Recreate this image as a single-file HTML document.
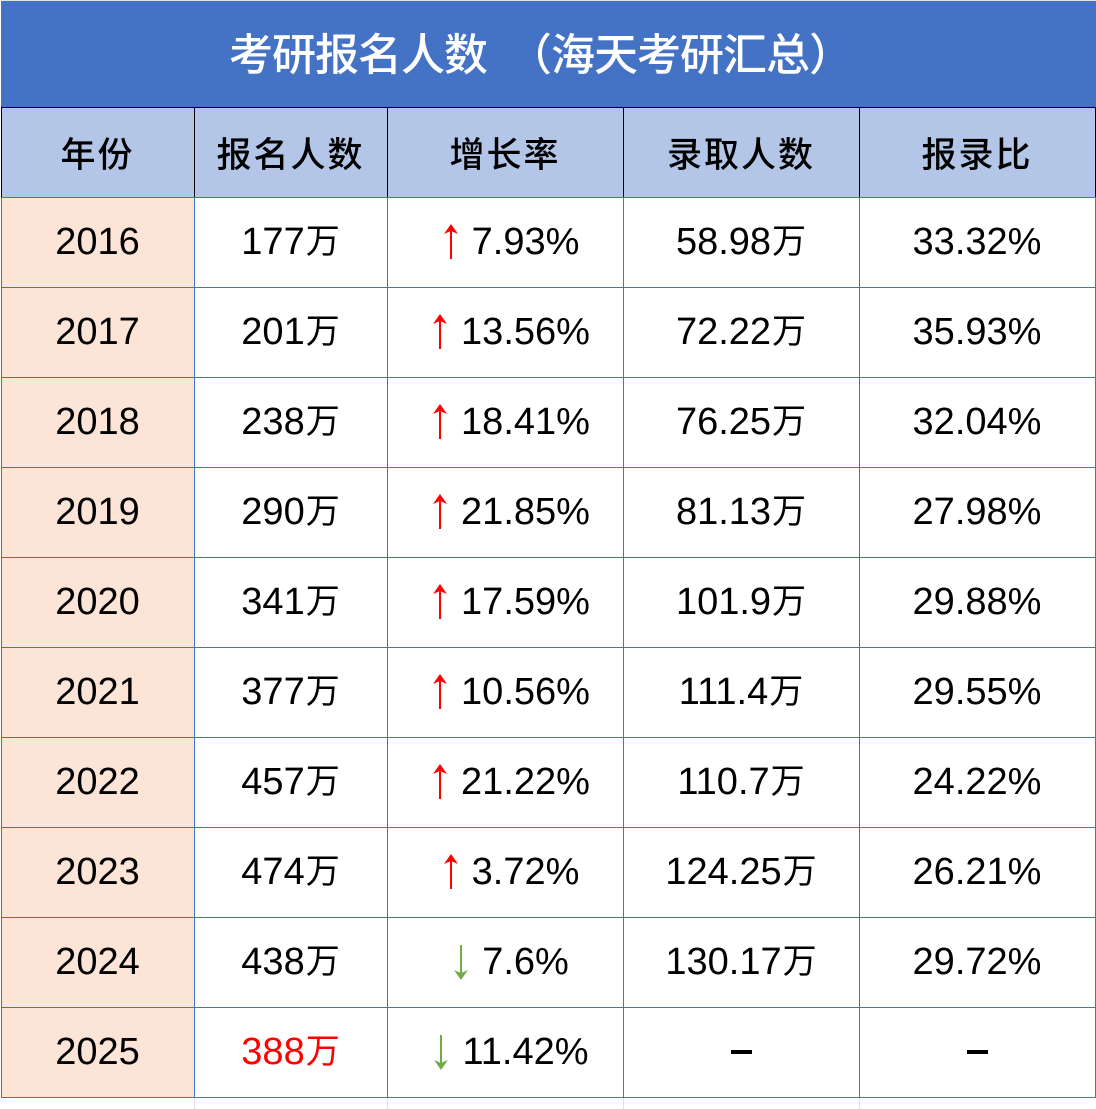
<!DOCTYPE html>
<html><head><meta charset="utf-8">
<style>
html,body{margin:0;padding:0;background:#fff;}
body{width:1096px;height:1109px;position:relative;overflow:hidden;font-family:"Liberation Sans","Noto Sans CJK SC",sans-serif;}
.a{position:absolute;}
.c{position:absolute;display:flex;align-items:center;justify-content:center;font-size:38px;color:#000;line-height:1;white-space:nowrap;}
.w{font-family:"Noto Sans CJK SC",sans-serif;font-size:34px;margin-left:1px;position:relative;top:-3px;}
.h{font-family:"Noto Sans CJK SC",sans-serif;font-size:35px;font-weight:500;letter-spacing:2px;}
.g{padding-left:12px;box-sizing:border-box;}
.g svg{margin-right:13px;flex:none;}
.vl{position:absolute;width:1px;}
.hl{position:absolute;height:1px;}
.t{position:absolute;top:-2px;height:106px;line-height:106px;font-family:'Noto Sans CJK SC',sans-serif;font-size:44px;font-weight:500;letter-spacing:-1px;color:#fff;white-space:nowrap;}
</style></head><body>
<!-- faint gridlines -->
<div class="hl" style="left:0;top:0;width:1096px;background:#e2e2e2"></div>
<div class="vl" style="left:194px;top:1098px;height:11px;background:#e2e2e2"></div>
<div class="vl" style="left:387px;top:1098px;height:11px;background:#e2e2e2"></div>
<div class="vl" style="left:623px;top:1098px;height:11px;background:#e2e2e2"></div>
<div class="vl" style="left:859px;top:1098px;height:11px;background:#e2e2e2"></div>

<!-- title -->
<div class="a" style="left:1px;top:1px;width:1095px;height:106px;background:#4472C4"></div>
<div class="t" style="left:229px;">考研报名人数</div>
<div class="t" style="left:508px;">（海天考研汇总）</div>

<!-- header -->
<div class="a" style="left:1px;top:107px;width:1094px;height:90px;background:#B4C6E7"></div>
<!-- year column fill -->
<div class="a" style="left:1px;top:197px;width:193px;height:900px;background:#FCE4D6"></div>

<div class="c h" style="left:1px;top:107px;width:193px;height:90px;">年份</div>
<div class="c h" style="left:194px;top:107px;width:193px;height:90px;">报名人数</div>
<div class="c h" style="left:387px;top:107px;width:236px;height:90px;">增长率</div>
<div class="c h" style="left:623px;top:107px;width:236px;height:90px;">录取人数</div>
<div class="c h" style="left:859px;top:107px;width:236px;height:90px;">报录比</div>

<!-- rows -->
<div class="c" style="left:1px;top:197px;width:193px;height:90px;">2016</div>
<div class="c" style="left:194px;top:197px;width:193px;height:90px;">177<span class="w">万</span></div>
<div class="c g" style="left:387px;top:197px;width:236px;height:90px;"><svg width="16" height="36" viewBox="0 0 16 36"><line x1="8" y1="4" x2="8" y2="35" stroke="#FF0000" stroke-width="2"/><polygon points="1,10 8,0 15,10 8,7" fill="#FF0000"/></svg>7.93%</div>
<div class="c" style="left:623px;top:197px;width:236px;height:90px;">58.98<span class="w">万</span></div>
<div class="c" style="left:859px;top:197px;width:236px;height:90px;">33.32%</div>

<div class="c" style="left:1px;top:287px;width:193px;height:90px;">2017</div>
<div class="c" style="left:194px;top:287px;width:193px;height:90px;">201<span class="w">万</span></div>
<div class="c g" style="left:387px;top:287px;width:236px;height:90px;"><svg width="16" height="36" viewBox="0 0 16 36"><line x1="8" y1="4" x2="8" y2="35" stroke="#FF0000" stroke-width="2"/><polygon points="1,10 8,0 15,10 8,7" fill="#FF0000"/></svg>13.56%</div>
<div class="c" style="left:623px;top:287px;width:236px;height:90px;">72.22<span class="w">万</span></div>
<div class="c" style="left:859px;top:287px;width:236px;height:90px;">35.93%</div>

<div class="c" style="left:1px;top:377px;width:193px;height:90px;">2018</div>
<div class="c" style="left:194px;top:377px;width:193px;height:90px;">238<span class="w">万</span></div>
<div class="c g" style="left:387px;top:377px;width:236px;height:90px;"><svg width="16" height="36" viewBox="0 0 16 36"><line x1="8" y1="4" x2="8" y2="35" stroke="#FF0000" stroke-width="2"/><polygon points="1,10 8,0 15,10 8,7" fill="#FF0000"/></svg>18.41%</div>
<div class="c" style="left:623px;top:377px;width:236px;height:90px;">76.25<span class="w">万</span></div>
<div class="c" style="left:859px;top:377px;width:236px;height:90px;">32.04%</div>

<div class="c" style="left:1px;top:467px;width:193px;height:90px;">2019</div>
<div class="c" style="left:194px;top:467px;width:193px;height:90px;">290<span class="w">万</span></div>
<div class="c g" style="left:387px;top:467px;width:236px;height:90px;"><svg width="16" height="36" viewBox="0 0 16 36"><line x1="8" y1="4" x2="8" y2="35" stroke="#FF0000" stroke-width="2"/><polygon points="1,10 8,0 15,10 8,7" fill="#FF0000"/></svg>21.85%</div>
<div class="c" style="left:623px;top:467px;width:236px;height:90px;">81.13<span class="w">万</span></div>
<div class="c" style="left:859px;top:467px;width:236px;height:90px;">27.98%</div>

<div class="c" style="left:1px;top:557px;width:193px;height:90px;">2020</div>
<div class="c" style="left:194px;top:557px;width:193px;height:90px;">341<span class="w">万</span></div>
<div class="c g" style="left:387px;top:557px;width:236px;height:90px;"><svg width="16" height="36" viewBox="0 0 16 36"><line x1="8" y1="4" x2="8" y2="35" stroke="#FF0000" stroke-width="2"/><polygon points="1,10 8,0 15,10 8,7" fill="#FF0000"/></svg>17.59%</div>
<div class="c" style="left:623px;top:557px;width:236px;height:90px;">101.9<span class="w">万</span></div>
<div class="c" style="left:859px;top:557px;width:236px;height:90px;">29.88%</div>

<div class="c" style="left:1px;top:647px;width:193px;height:90px;">2021</div>
<div class="c" style="left:194px;top:647px;width:193px;height:90px;">377<span class="w">万</span></div>
<div class="c g" style="left:387px;top:647px;width:236px;height:90px;"><svg width="16" height="36" viewBox="0 0 16 36"><line x1="8" y1="4" x2="8" y2="35" stroke="#FF0000" stroke-width="2"/><polygon points="1,10 8,0 15,10 8,7" fill="#FF0000"/></svg>10.56%</div>
<div class="c" style="left:623px;top:647px;width:236px;height:90px;">111.4<span class="w">万</span></div>
<div class="c" style="left:859px;top:647px;width:236px;height:90px;">29.55%</div>

<div class="c" style="left:1px;top:737px;width:193px;height:90px;">2022</div>
<div class="c" style="left:194px;top:737px;width:193px;height:90px;">457<span class="w">万</span></div>
<div class="c g" style="left:387px;top:737px;width:236px;height:90px;"><svg width="16" height="36" viewBox="0 0 16 36"><line x1="8" y1="4" x2="8" y2="35" stroke="#FF0000" stroke-width="2"/><polygon points="1,10 8,0 15,10 8,7" fill="#FF0000"/></svg>21.22%</div>
<div class="c" style="left:623px;top:737px;width:236px;height:90px;">110.7<span class="w">万</span></div>
<div class="c" style="left:859px;top:737px;width:236px;height:90px;">24.22%</div>

<div class="c" style="left:1px;top:827px;width:193px;height:90px;">2023</div>
<div class="c" style="left:194px;top:827px;width:193px;height:90px;">474<span class="w">万</span></div>
<div class="c g" style="left:387px;top:827px;width:236px;height:90px;"><svg width="16" height="36" viewBox="0 0 16 36"><line x1="8" y1="4" x2="8" y2="35" stroke="#FF0000" stroke-width="2"/><polygon points="1,10 8,0 15,10 8,7" fill="#FF0000"/></svg>3.72%</div>
<div class="c" style="left:623px;top:827px;width:236px;height:90px;">124.25<span class="w">万</span></div>
<div class="c" style="left:859px;top:827px;width:236px;height:90px;">26.21%</div>

<div class="c" style="left:1px;top:917px;width:193px;height:90px;">2024</div>
<div class="c" style="left:194px;top:917px;width:193px;height:90px;">438<span class="w">万</span></div>
<div class="c g" style="left:387px;top:917px;width:236px;height:90px;"><svg width="16" height="36" viewBox="0 0 16 36"><line x1="8" y1="1" x2="8" y2="32" stroke="#70AD47" stroke-width="2"/><polygon points="1,26 8,36 15,26 8,29" fill="#70AD47"/></svg>7.6%</div>
<div class="c" style="left:623px;top:917px;width:236px;height:90px;">130.17<span class="w">万</span></div>
<div class="c" style="left:859px;top:917px;width:236px;height:90px;">29.72%</div>

<div class="c" style="left:1px;top:1007px;width:193px;height:90px;">2025</div>
<div class="c" style="left:194px;top:1007px;width:193px;height:90px;color:#FF0000;">388<span class="w">万</span></div>
<div class="c g" style="left:387px;top:1007px;width:236px;height:90px;"><svg width="16" height="36" viewBox="0 0 16 36"><line x1="8" y1="1" x2="8" y2="32" stroke="#70AD47" stroke-width="2"/><polygon points="1,26 8,36 15,26 8,29" fill="#70AD47"/></svg>11.42%</div>
<div class="a" style="left:731px;top:1050px;width:21px;height:4px;background:#000"></div>
<div class="a" style="left:967px;top:1050px;width:21px;height:4px;background:#000"></div>

<!-- header lines (black) -->
<div class="hl" style="left:1px;top:107px;width:1095px;background:#000"></div>
<div class="vl" style="left:1px;top:107px;height:90px;background:#000"></div>
<div class="vl" style="left:194px;top:107px;height:90px;background:#000"></div>
<div class="vl" style="left:387px;top:107px;height:90px;background:#000"></div>
<div class="vl" style="left:623px;top:107px;height:90px;background:#000"></div>
<div class="vl" style="left:859px;top:107px;height:90px;background:#000"></div>
<div class="vl" style="left:1095px;top:107px;height:90px;background:#000"></div>

<!-- data lines (blue) -->
<div class="hl" style="left:1px;top:197px;width:1095px;background:#4472C4"></div>
<div class="hl" style="left:1px;top:287px;width:1095px;background:#4472C4"></div>
<div class="hl" style="left:1px;top:377px;width:1095px;background:#4472C4"></div>
<div class="hl" style="left:1px;top:467px;width:1095px;background:#4472C4"></div>
<div class="hl" style="left:1px;top:557px;width:1095px;background:#4472C4"></div>
<div class="hl" style="left:1px;top:647px;width:1095px;background:#4472C4"></div>
<div class="hl" style="left:1px;top:737px;width:1095px;background:#4472C4"></div>
<div class="hl" style="left:1px;top:827px;width:1095px;background:#4472C4"></div>
<div class="hl" style="left:1px;top:917px;width:1095px;background:#4472C4"></div>
<div class="hl" style="left:1px;top:1007px;width:1095px;background:#4472C4"></div>
<div class="hl" style="left:1px;top:1097px;width:1095px;background:#4472C4"></div>
<div class="vl" style="left:1px;top:197px;height:901px;background:#4472C4"></div>
<div class="vl" style="left:194px;top:197px;height:901px;background:#4472C4"></div>
<div class="vl" style="left:387px;top:197px;height:901px;background:#4472C4"></div>
<div class="vl" style="left:623px;top:197px;height:901px;background:#4472C4"></div>
<div class="vl" style="left:859px;top:197px;height:901px;background:#4472C4"></div>
<div class="vl" style="left:1095px;top:197px;height:901px;background:#4472C4"></div>
</body></html>
